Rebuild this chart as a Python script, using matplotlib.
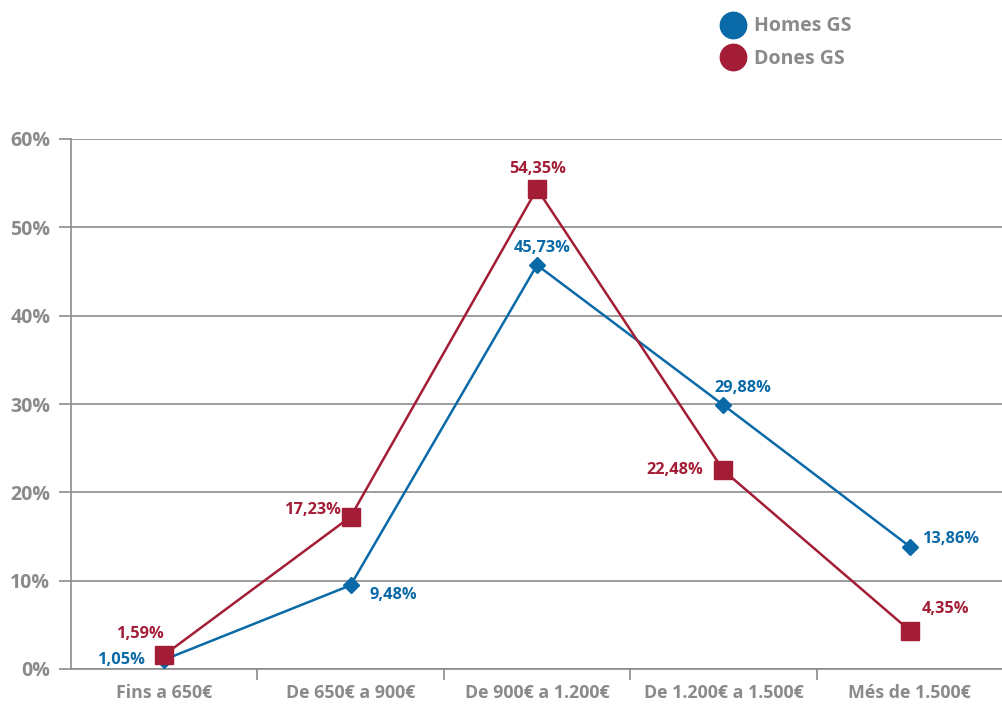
import matplotlib
matplotlib.use("Agg")
import matplotlib.pyplot as plt
from matplotlib.lines import Line2D

categories = ["Fins a 650€", "De 650€ a 900€", "De 900€ a 1.200€", "De 1.200€ a 1.500€", "Més de 1.500€"]
homes = [1.05, 9.48, 45.73, 29.88, 13.86]
dones = [1.59, 17.23, 54.35, 22.48, 4.35]
homes_labels = ["1,05%", "9,48%", "45,73%", "29,88%", "13,86%"]
dones_labels = ["1,59%", "17,23%", "54,35%", "22,48%", "4,35%"]
yticks = [0, 10, 20, 30, 40, 50, 60]
ytick_labels = ["0%", "10%", "20%", "30%", "40%", "50%", "60%"]

BLUE = "#0a6aa8"
RED = "#a31d36"
GRAY = "#8a8a8a"
AXC = "#8c8c8c"
W = 'bold'

plt.rcParams['font.family'] = ['Open Sans', 'DejaVu Sans']

fig = plt.figure(figsize=(10.03, 7.04), dpi=100)
ax = fig.add_axes([71/1003, 1-669/704, (1003-71)/1003, (669-139)/704])

x = list(range(len(categories)))
ax.plot(x, homes, color=BLUE, lw=1.8, marker='D', markersize=8, zorder=3)
ax.plot(x, dones, color=RED, lw=1.8, marker='s', markersize=12.5, zorder=3)

ax.set_xlim(-0.5, len(categories)-0.5)
ax.set_ylim(0, 60)
ax.set_yticks(yticks)
ax.set_yticklabels(ytick_labels, fontsize=14, color=GRAY, fontweight=W)
ax.set_xticks(x)
ax.set_xticklabels(categories, fontsize=12.8, color=GRAY, fontweight=W)
ax.set_xticks([i + 0.5 for i in x[:-1]], minor=True)
ax.tick_params(axis='x', which='major', length=0, pad=11)
ax.tick_params(axis='x', which='minor', length=8, width=1.2, color=AXC, direction='out')
ax.tick_params(axis='y', length=9, width=1.2, color=AXC, pad=6)
ax.yaxis.grid(True, color=AXC, lw=1.2)
ax.set_axisbelow(True)
for s in ['top', 'right']:
    ax.spines[s].set_visible(False)
for s in ['left', 'bottom']:
    ax.spines[s].set_color(AXC)
    ax.spines[s].set_linewidth(1.2)

homes_off = [(-18, 0, 'right'), (19, -10, 'left'), (5, 17, 'center'), (19, 17, 'center'), (13, 8, 'left')]
dones_off = [(-23, 21, 'center'), (-9, 7, 'right'), (1, 20, 'center'), (-20, 0, 'right'), (36, 22, 'center')]
for i in x:
    dx, dy, ha = homes_off[i]
    ax.annotate(homes_labels[i], (i, homes[i]), xytext=(dx, dy), textcoords='offset pixels',
                ha=ha, va='center', color=BLUE, fontsize=11.8, fontweight=W)
    dx, dy, ha = dones_off[i]
    ax.annotate(dones_labels[i], (i, dones[i]), xytext=(dx, dy), textcoords='offset pixels',
                ha=ha, va='center', color=RED, fontsize=11.8, fontweight=W)

handles = [Line2D([], [], ls='none', marker='o', markersize=19, color=BLUE),
           Line2D([], [], ls='none', marker='o', markersize=19, color=RED)]
fig.legend(handles, ["Homes GS", "Dones GS"], loc='upper left', bbox_to_anchor=(706/1003, 1+1/704),
           frameon=False, handlelength=1.0, handletextpad=0.55, labelspacing=0.62,
           prop={'family': 'Open Sans', 'weight': W, 'size': 14}, labelcolor=GRAY)

fig.savefig("out.png", dpi=100)
